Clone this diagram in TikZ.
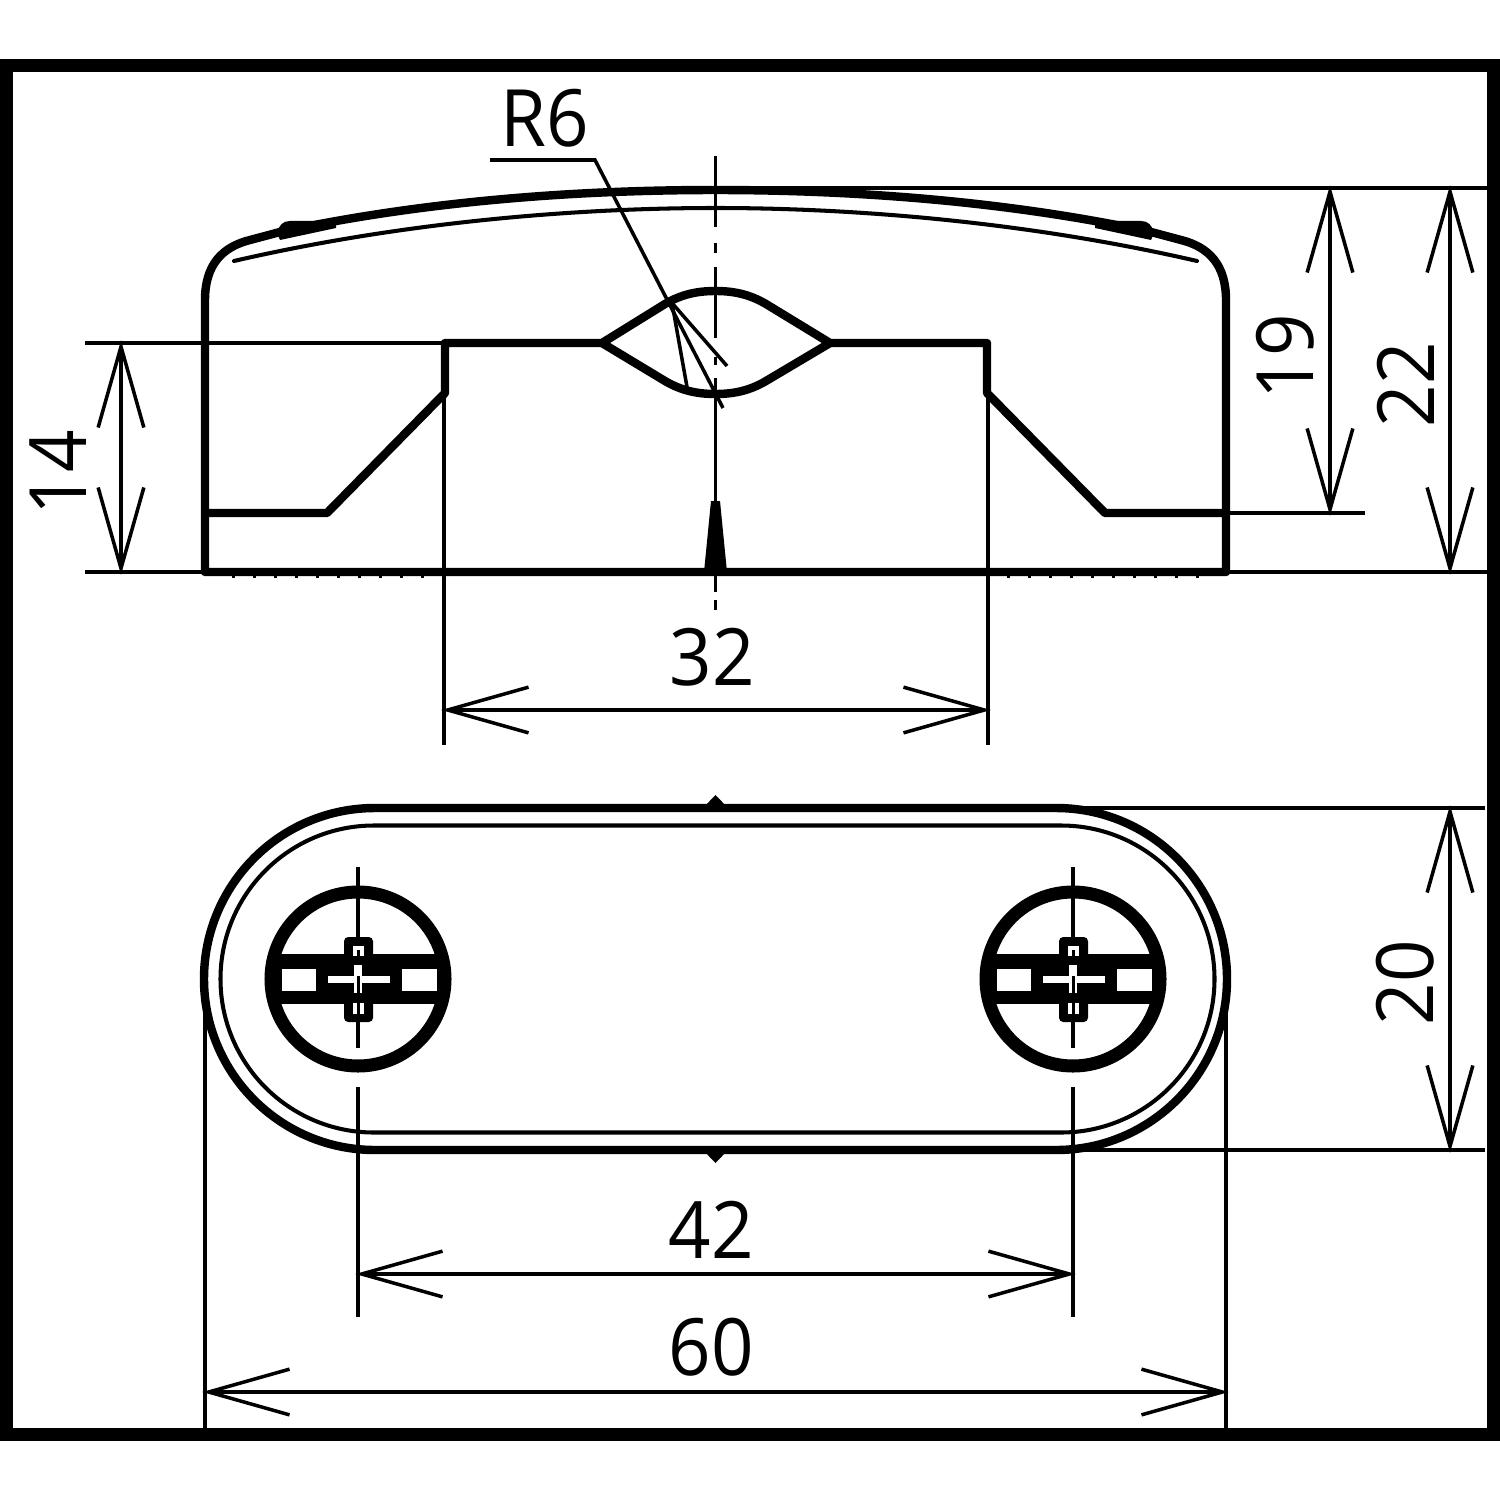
\documentclass[tikz,border=0pt]{standalone}
\usepackage{fontspec}
\setmainfont[FakeStretch=0.94]{Open Sans}
\usetikzlibrary{arrows.meta}
\tikzset{
	heavy/.style={line width=2.4pt,line join=round},
	lightline/.style={line width=1.15pt},
	hairline/.style={line width=1pt},
	centerline/.style={line width=1.05pt},
	dimline/.style={line width=1pt,shorten >=-0.8pt,shorten <=-0.8pt,{Straight Barb[length=23pt,width=13pt]}-{Straight Barb[length=23pt,width=13pt]}},
	dimlabel/.style={inner sep=0pt,font=\fontsize{22.5}{26}\selectfont}
}
\begin{document}
\begin{tikzpicture}[x=0.01cm,y=-0.01cm]
	\useasboundingbox (0,0) rectangle (1500,1500);
	\draw [line width=3.7pt] (6.5,65.5) rectangle (1493.5,1434.5);
	% side view
	\draw [heavy] (205,572) -- (205,300) .. controls (205,265) and (222,247) .. (250,240) -- (280,232)
		.. controls (420,202) and (570,190) .. (715.5,190)
		.. controls (861,190) and (1011,202) .. (1151,232) -- (1181,240)
		.. controls (1209,247) and (1226,265) .. (1226,300) -- (1226,572) -- cycle;
	\fill (277,233) .. controls (279,225) and (283,221) .. (290,221) -- (336,221) -- (336,228) -- (280,240) -- cycle;
	\fill (1154,233) .. controls (1152,225) and (1148,221) .. (1141,221) -- (1095,221) -- (1095,228) -- (1151,240) -- cycle;
	\draw [lightline,line cap=round] (234,261) .. controls (390,225) and (560,208) .. (715.5,208)
		.. controls (871,208) and (1041,225) .. (1197,261);
	\draw [heavy] (205,513) -- (327,513) -- (445,393) -- (445,343) -- (602,343) -- (665,304)
		.. controls (682,294) and (698,291) .. (715.5,291)
		.. controls (733,291) and (749,294) .. (766,304) -- (830,343) -- (987,343) -- (987,393) -- (1105,513) -- (1226,513);
	\draw [heavy] (602,343) -- (665,381) .. controls (682,391) and (698,394) .. (715.5,394)
		.. controls (733,394) and (749,391) .. (766,381) -- (830,343);
	\fill (711,501) -- (720,501) -- (727,572) -- (704,572) -- cycle;
	\foreach \tickx in {232,253,...,421} {
		\fill (\tickx,574) rectangle (\tickx+3,578);
		\fill (1431-\tickx,574) rectangle (1431-\tickx-3,578);
	}
	% centre line
	\draw [centerline] (715.5,156) -- (715.5,227);
	\draw [centerline] (715.5,243) -- (715.5,253);
	\draw [centerline] (715.5,267) -- (715.5,338);
	\draw [centerline] (715.5,357) -- (715.5,365);
	\draw [centerline] (715.5,378) -- (715.5,592);
	\draw [centerline] (715.5,600) -- (715.5,610);
	% leader of the radius
	\node (rsix) [dimlabel] at (545,118) {R6};
	\draw [hairline] (490,160) -- (595,160) -- (723,408);
	\draw [hairline] (672,303) -- (727,366);
	\draw [hairline] (672,303) -- (687,387);
	% extension lines, side view
	\draw [hairline] (85,343) -- (445,343);
	\draw [hairline] (85,572) -- (205,572);
	\draw [hairline] (715,188) -- (1487,188);
	\draw [hairline] (1226,513) -- (1365,513);
	\draw [hairline] (1226,572) -- (1487,572);
	\draw [hairline] (444,343) -- (444,745);
	\draw [hairline] (988,393) -- (988,745);
	% dimensions, side view
	\draw [dimline] (121,343) -- (121,572);
	\node (dimfourteen) [dimlabel,rotate=90] at (58,473) {14};
	\draw [dimline] (1330,188) -- (1330,513);
	\node (dimnineteen) [dimlabel,rotate=90] at (1285,357) {19};
	\draw [dimline] (1450,188) -- (1450,572);
	\node (dimtwentytwo) [dimlabel,rotate=90] at (1406,385) {22};
	\draw [dimline] (444,710) -- (988,710);
	\node (dimthirtytwo) [dimlabel] at (712,657) {32};
	% top view
	\draw [heavy] (375,808) arc [start angle=270,end angle=90,radius=171] -- (1056,1150)
		arc [start angle=90,end angle=-90,radius=171] -- cycle;
	\draw [lightline] (374,825.5) arc [start angle=270,end angle=90,radius=153.5] -- (1061,1132.5)
		arc [start angle=90,end angle=-90,radius=153.5] -- cycle;
	\fill (703,808) -- (715.5,795) -- (728,808) -- cycle;
	\fill (703,1150) -- (715.5,1163) -- (728,1150) -- cycle;
	\foreach \screwx in {358,1073} {
		\begin{scope}[shift={(\screwx,979)}]
			\draw [hairline] (0,-112) -- (0,69);
			\draw [line width=3.7pt] (0,0) circle [radius=87];
			\fill (-85,-25) rectangle (85,25);
			\fill [rounded corners=1.2pt] (-14,-42) rectangle (15,43);
			\fill [white] (-76,-10) rectangle (-42,12);
			\fill [white] (44,-10) rectangle (79,12);
			\fill [white] (-30,-3) rectangle (32,4);
			\fill [white] (-4,-14) rectangle (4,14);
			\fill [white] (-5,-33) rectangle (6,-23);
			\fill [white] (-5,24) rectangle (6,35);
			\draw [line width=0.8pt] (0.5,-29) -- (0.5,-23);
			\draw [line width=0.8pt] (0.5,24) -- (0.5,35);
			\draw [line width=1pt] (0.5,-3) -- (0.5,14);
		\end{scope}
	}
	\draw [hairline] (358,1087) -- (358,1317);
	\draw [hairline] (1073,1087) -- (1073,1317);
	% extension lines, top view
	\draw [hairline] (1060,808) -- (1485,808);
	\draw [hairline] (1060,1150) -- (1485,1150);
	\draw [hairline] (205,1005) -- (205,1428);
	\draw [hairline] (1226,1005) -- (1226,1428);
	% dimensions, top view
	\draw [dimline] (1450,808) -- (1450,1150);
	\node (dimtwenty) [dimlabel,rotate=90] at (1405,983) {20};
	\draw [dimline] (358,1274) -- (1073,1274);
	\node (dimfortytwo) [dimlabel] at (711,1230) {42};
	\draw [dimline] (205,1392) -- (1226,1392);
	\node (dimsixty) [dimlabel] at (711,1347) {60};
\end{tikzpicture}
\end{document}
